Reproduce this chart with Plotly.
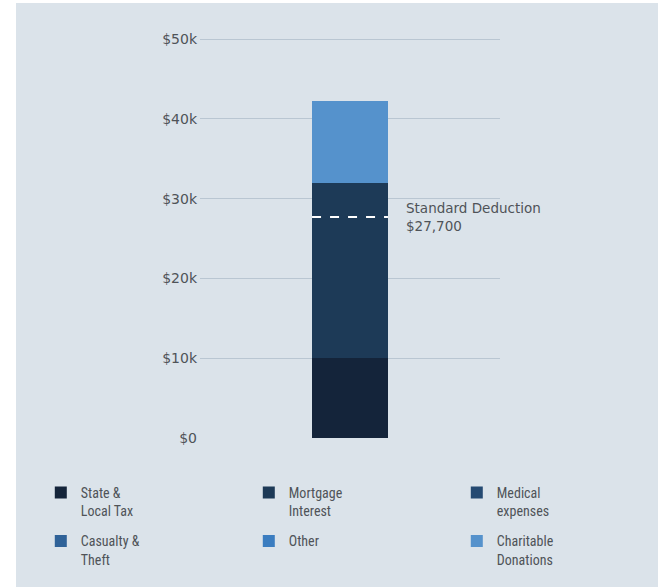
import plotly.graph_objects as go

# Itemized deduction components (USD), stacked in one column
categories = ["State &<br>Local Tax", "Mortgage<br>Interest", "Medical<br>expenses",
              "Casualty &<br>Theft", "Other", "Charitable<br>Donations"]
amounts = [10000, 22000, 0, 0, 0, 10200]
colors = ["#14243a", "#1d3a57", "#254a72", "#2f6298", "#3b7dc0", "#5592cc"]

standard_deduction = 27700
tick_values = [0, 10000, 20000, 30000, 40000, 50000]
tick_labels = ["$0", "$10k", "$20k", "$30k", "$40k", "$50k"]

bar_width = 0.253
bg = "#dbe3ea"
text_color = "#4f5358"
legend_font = dict(family="Roboto Condensed, Liberation Sans Narrow, DejaVu Sans Condensed, sans-serif",
                   size=14, color=text_color)
n_cols = 3
legend_ids = ["legend", "legend2", "legend3"]

fig = go.Figure()
for i, (name, val, col) in enumerate(zip(categories, amounts, colors)):
    fig.add_trace(go.Bar(
        x=[0], y=[val], name=name, marker=dict(color=col, line=dict(width=0)),
        width=bar_width, hoverinfo="skip",
        legend=legend_ids[i % n_cols], legendgroup=f"g{i}",
    ))

# Panel background
fig.add_shape(type="rect", xref="paper", yref="paper",
              x0=-0.6133, x1=1.53, y0=-0.38, y1=1.0848,
              fillcolor=bg, line=dict(width=0), layer="below")

# Standard deduction marker
fig.add_shape(type="line", xref="x", yref="y",
              x0=-bar_width / 2, x1=bar_width / 2,
              y0=standard_deduction, y1=standard_deduction,
              line=dict(color="white", width=2, dash="dash"))
fig.add_annotation(x=bar_width / 2, y=standard_deduction, xref="x", yref="y",
                   text=f"Standard Deduction<br>${standard_deduction:,}",
                   showarrow=False, xanchor="left", yanchor="middle", align="left",
                   xshift=16, font=dict(family="DejaVu Sans", size=13.5, color=text_color))

legend_layout = {}
for k, lid in enumerate(legend_ids):
    legend_layout[lid] = dict(
        orientation="v", xref="container", yref="container",
        x=0.062 + k * 208 / 658, xanchor="left", y=1 - 477 / 587, yanchor="top",
        traceorder="grouped", valign="top", bgcolor="rgba(0,0,0,0)",
        itemwidth=30, itemclick=False, itemdoubleclick=False,
        tracegroupgap=9, font=legend_font,
    )

fig.update_layout(
    width=658, height=587,
    margin=dict(l=200, r=158, t=37, b=149, autoexpand=False),
    paper_bgcolor="white", plot_bgcolor=bg,
    barmode="stack", bargap=0,
    showlegend=True,
    xaxis=dict(range=[-0.5, 0.5], showticklabels=False, showgrid=False,
               zeroline=False, showline=False, fixedrange=True),
    yaxis=dict(range=[0, 50250], tickvals=tick_values, ticktext=tick_labels,
               showgrid=True, gridcolor="#b9c6d2", gridwidth=1,
               zeroline=False, showline=False, ticks="", ticklabelstandoff=2,
               tickfont=dict(family="DejaVu Sans", size=14, color=text_color)),
    **legend_layout,
)

fig.write_html("out.html")
